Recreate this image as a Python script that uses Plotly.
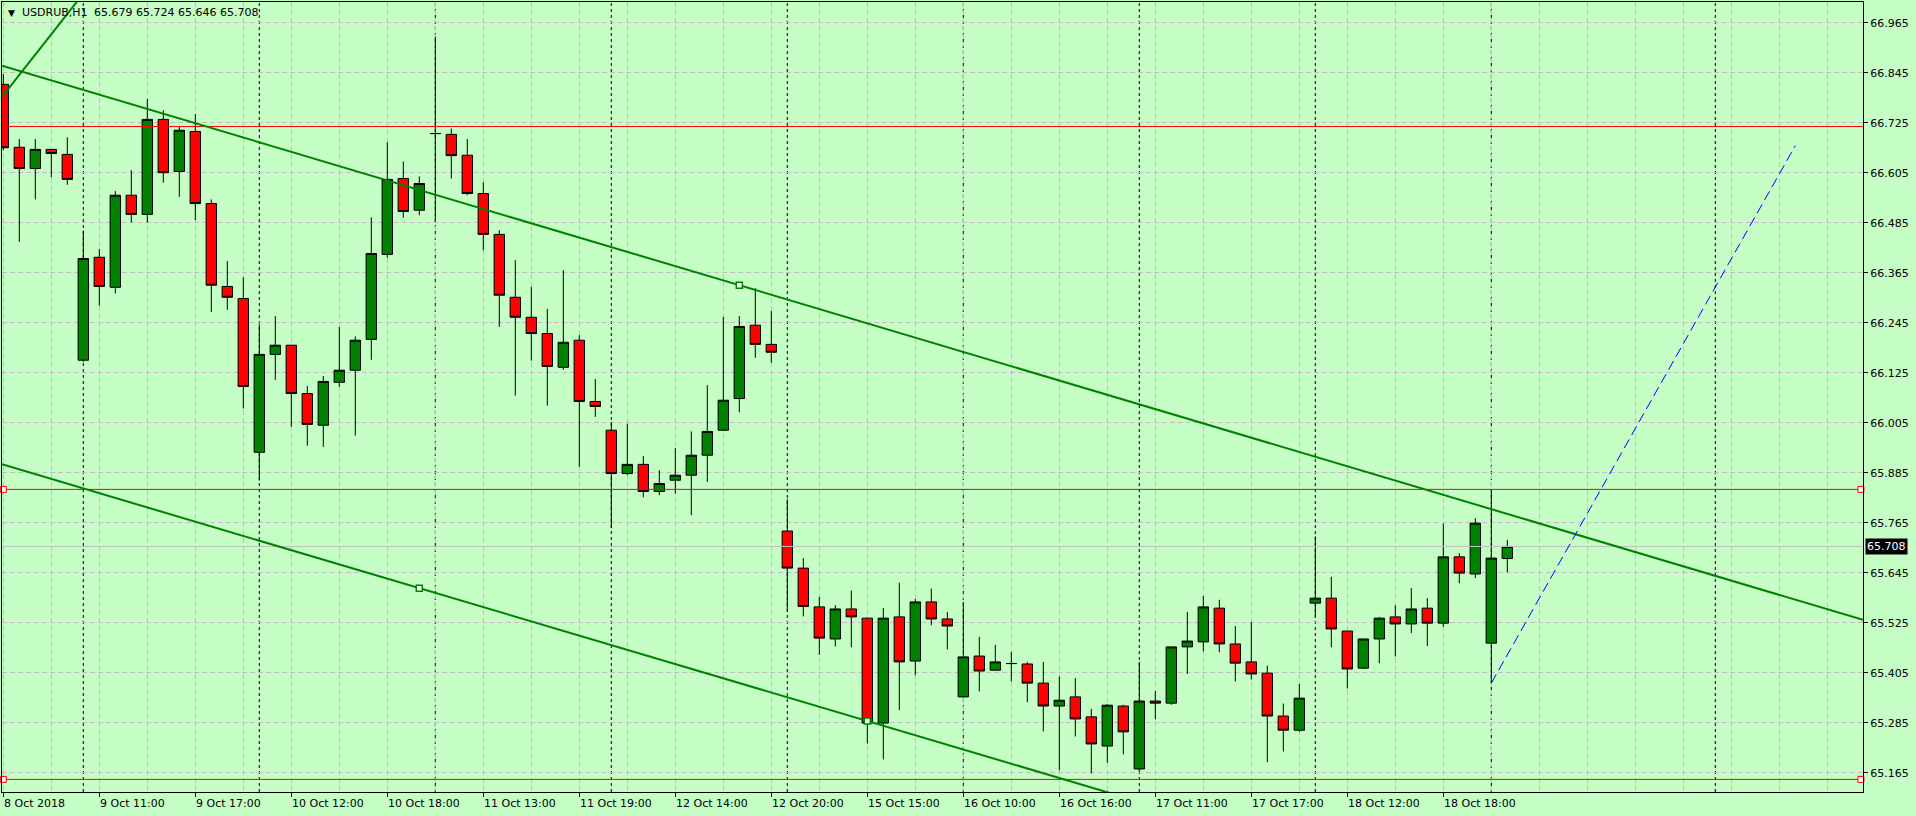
import plotly.graph_objects as go

# ---------------- data ----------------
symbol = "USDRUB,H1"

opens = [66.817, 66.666, 66.615, 66.661, 66.649, 66.155, 66.402, 66.330, 66.551, 66.505,
         66.733, 66.608, 66.704, 66.531, 66.332, 66.303, 65.934, 66.169, 66.191, 66.075,
         65.999, 66.102, 66.131, 66.205, 66.409, 66.591, 66.515, 66.699, 66.697, 66.647,
         66.555, 66.457, 66.306, 66.258, 66.219, 66.138, 66.203, 66.056, 65.987, 65.883,
         65.905, 65.840, 65.867, 65.879, 65.927, 65.987, 66.063, 66.239, 66.193, 65.745,
         65.656, 65.563, 65.486, 65.558, 65.536, 65.284, 65.539, 65.433, 65.575, 65.534,
         65.347, 65.445, 65.411, 65.427, 65.426, 65.380, 65.325, 65.347, 65.299, 65.229,
         65.325, 65.174, 65.337, 65.332, 65.467, 65.479, 65.560, 65.474, 65.431, 65.404,
         65.301, 65.267, 65.572, 65.584, 65.505, 65.416, 65.486, 65.539, 65.522, 65.560,
         65.524, 65.683, 65.642, 65.476, 65.679]
highs = [66.842, 66.686, 66.686, 66.661, 66.690, 66.466, 66.422, 66.561, 66.611, 66.782,
         66.755, 66.716, 66.746, 66.541, 66.393, 66.354, 66.241, 66.261, 66.191, 66.093,
         66.117, 66.235, 66.212, 66.498, 66.678, 66.632, 66.596, 66.931, 66.711, 66.686,
         66.582, 66.467, 66.395, 66.331, 66.278, 66.371, 66.215, 66.110, 66.007, 66.003,
         65.925, 65.891, 65.944, 65.984, 66.095, 66.259, 66.261, 66.328, 66.273, 65.822,
         65.680, 65.587, 65.567, 65.602, 65.538, 65.560, 65.621, 65.582, 65.607, 65.551,
         65.575, 65.491, 65.472, 65.455, 65.431, 65.431, 65.396, 65.392, 65.318, 65.330,
         65.328, 65.431, 65.361, 65.467, 65.551, 65.589, 65.580, 65.517, 65.527, 65.422,
         65.331, 65.378, 65.732, 65.635, 65.505, 65.486, 65.539, 65.567, 65.608, 65.584,
         65.763, 65.692, 65.776, 65.846, 65.724]
lows = [66.659, 66.439, 66.541, 66.594, 66.576, 66.151, 66.286, 66.315, 66.485, 66.485,
        66.581, 66.547, 66.491, 66.271, 66.276, 66.039, 65.866, 66.108, 65.995, 65.950,
        65.947, 66.091, 65.974, 66.156, 66.401, 66.497, 66.503, 66.487, 66.591, 66.551,
        66.419, 66.235, 66.070, 66.154, 66.046, 66.132, 65.899, 66.019, 65.752, 65.879,
        65.826, 65.831, 65.835, 65.783, 65.863, 65.985, 66.030, 66.161, 66.149, 65.551,
        65.540, 65.448, 65.468, 65.466, 65.235, 65.197, 65.315, 65.399, 65.519, 65.461,
        65.345, 65.360, 65.411, 65.384, 65.334, 65.264, 65.171, 65.252, 65.163, 65.189,
        65.209, 65.168, 65.293, 65.328, 65.402, 65.456, 65.454, 65.384, 65.389, 65.190,
        65.216, 65.263, 65.540, 65.466, 65.367, 65.414, 65.428, 65.444, 65.500, 65.469,
        65.515, 65.620, 65.632, 65.380, 65.646]
closes = [66.665, 66.615, 66.661, 66.651, 66.589, 66.399, 66.332, 66.551, 66.505, 66.733,
          66.605, 66.707, 66.531, 66.335, 66.306, 66.092, 66.169, 66.191, 66.075, 66.001,
          66.104, 66.131, 66.203, 66.411, 66.589, 66.512, 66.579, 66.699, 66.646, 66.555,
          66.457, 66.311, 66.258, 66.219, 66.140, 66.198, 66.056, 66.044, 65.883, 65.905,
          65.840, 65.859, 65.879, 65.927, 65.984, 66.059, 66.236, 66.193, 66.174, 65.656,
          65.564, 65.488, 65.558, 65.539, 65.284, 65.536, 65.431, 65.575, 65.534, 65.517,
          65.443, 65.409, 65.431, 65.427, 65.380, 65.325, 65.339, 65.294, 65.234, 65.327,
          65.263, 65.337, 65.332, 65.467, 65.481, 65.563, 65.474, 65.428, 65.402, 65.301,
          65.267, 65.344, 65.584, 65.510, 65.414, 65.486, 65.536, 65.522, 65.558, 65.524,
          65.683, 65.644, 65.764, 65.680, 65.708]

time_labels = ["8 Oct 2018", "9 Oct 11:00", "9 Oct 17:00", "10 Oct 12:00", "10 Oct 18:00",
               "11 Oct 13:00", "11 Oct 19:00", "12 Oct 14:00", "12 Oct 20:00", "15 Oct 15:00",
               "16 Oct 10:00", "16 Oct 16:00", "17 Oct 11:00", "17 Oct 17:00", "18 Oct 12:00",
               "18 Oct 18:00"]
label_bars = [0, 6, 12, 18, 24, 30, 36, 42, 48, 54, 60, 66, 72, 78, 84, 90]
day_start_bars = [5, 16, 27, 38, 49, 60, 71, 82, 93, 107]

price_ticks = [65.165, 65.285, 65.405, 65.525, 65.645, 65.765, 65.885, 66.005,
               66.125, 66.245, 66.365, 66.485, 66.605, 66.725, 66.845, 66.965]

red_levels = [66.716, 65.845, 65.149]
marked_levels = [65.845, 65.149]

upper_channel = [(0, 66.861), (46, 66.335)]
lower_channel = [(26, 65.608), (54, 65.289)]
steep_line = [(0, 66.791), (4, 66.986)]
projection = [(93, 65.380), (112, 66.670)]

# ---------------- layout constants ----------------
W, H = 1916, 816
ML, MR, MT, MB = 2, 53, 2, 24
X_RANGE = [-0.081, 116.23]
Y_RANGE = [65.1187, 67.0147]
BG = "#C5FFC5"
GRID = "#C4BCC4"
GREEN = "#008000"
RED = "#FF0000"
FONT = "DejaVu Sans"

bars = list(range(len(closes)))


def extend(pts, x0, x1):
    (a, pa), (b, pb) = pts
    k = (pb - pa) / (b - a)
    return [x0, x1], [pa + k * (x0 - a), pa + k * (x1 - a)]


fig = go.Figure()

# bid line (behind candles)
fig.add_trace(go.Scatter(x=X_RANGE, y=[closes[-1]] * 2, mode="lines",
                         line=dict(color="#C0C0C0", width=1), hoverinfo="skip",
                         showlegend=False))

fig.add_trace(go.Candlestick(
    x=bars, open=opens, high=highs, low=lows, close=closes,
    increasing=dict(line=dict(color="black", width=1), fillcolor=GREEN),
    decreasing=dict(line=dict(color="black", width=1), fillcolor=RED),
    whiskerwidth=0, hoverinfo="skip", showlegend=False,
))

# red horizontal levels
for lv in red_levels:
    fig.add_trace(go.Scatter(x=X_RANGE, y=[lv, lv], mode="lines",
                             line=dict(color=RED, width=1), hoverinfo="skip",
                             showlegend=False))
for lv in marked_levels:
    fig.add_trace(go.Scatter(x=[0, 116.1], y=[lv, lv], mode="markers",
                             marker=dict(symbol="square", size=6, color="white",
                                         line=dict(color=RED, width=1)),
                             cliponaxis=False, hoverinfo="skip", showlegend=False))

# trend lines
for pts in (upper_channel, lower_channel):
    xs, ys = extend(pts, X_RANGE[0], X_RANGE[1])
    fig.add_trace(go.Scatter(x=xs, y=ys, mode="lines", line=dict(color=GREEN, width=2),
                             hoverinfo="skip", showlegend=False))
xs, ys = extend(steep_line, X_RANGE[0], 10)
fig.add_trace(go.Scatter(x=xs, y=ys, mode="lines", line=dict(color=GREEN, width=2),
                         hoverinfo="skip", showlegend=False))

# anchor squares
fig.add_trace(go.Scatter(x=[upper_channel[1][0], lower_channel[0][0], lower_channel[1][0]],
                         y=[upper_channel[1][1], lower_channel[0][1], lower_channel[1][1]],
                         mode="markers",
                         marker=dict(symbol="square", size=6, color="white",
                                     line=dict(width=1.5, color=GREEN)),
                         hoverinfo="skip", showlegend=False))

# projection (blue dashed)
fig.add_trace(go.Scatter(x=[p[0] for p in projection], y=[p[1] for p in projection],
                         mode="lines", line=dict(color="#0000FF", width=1, dash="10px,5px"),
                         hoverinfo="skip", showlegend=False))

# day separators
shapes = []
for b in day_start_bars:
    shapes.append(dict(type="line", xref="x", yref="paper", x0=b, x1=b, y0=0, y1=1,
                       line=dict(color="black", width=1, dash="3px,3px"), layer="between"))

annotations = []
for b, t in zip(label_bars, time_labels):
    annotations.append(dict(x=b, xref="x", y=0, yref="paper", yshift=-11, text=t,
                            xanchor="left", yanchor="middle", showarrow=False,
                            font=dict(family=FONT, size=11, color="black"), xshift=-1))

pw = W - ML - MR
ph = H - MT - MB
def px(xp):
    return (xp - ML) / pw
def py(yp):
    return (H - MB - yp) / ph

annotations.append(dict(x=px(6), y=py(13), xref="paper", yref="paper", text="▼",
                        xanchor="left", yanchor="middle", showarrow=False,
                        font=dict(family=FONT, size=9, color="black")))
annotations.append(dict(x=px(20), y=py(13), xref="paper", yref="paper", text=symbol,
                        xanchor="left", yanchor="middle", showarrow=False,
                        font=dict(family=FONT, size=11, color="black")))
annotations.append(dict(x=px(92), y=py(13), xref="paper", yref="paper",
                        text=f"{opens[-1]:.3f} {highs[-1]:.3f} {lows[-1]:.3f} {closes[-1]:.3f}",
                        xanchor="left", yanchor="middle", showarrow=False,
                        font=dict(family=FONT, size=11, color="black")))
annotations.append(dict(x=1, xref="paper", y=closes[-1], yref="y", xshift=2,
                        text=f"{closes[-1]:.3f}", xanchor="left", yanchor="middle",
                        showarrow=False, bgcolor="black", borderpad=1,
                        font=dict(family=FONT, size=11, color="white")))

fig.update_layout(
    width=W, height=H, autosize=False,
    margin=dict(l=ML, r=MR, t=MT, b=MB, pad=0),
    paper_bgcolor=BG, plot_bgcolor=BG,
    boxgap=0.35, boxgroupgap=0,
    shapes=shapes, annotations=annotations,
    showlegend=False,
    xaxis=dict(range=X_RANGE, rangeslider=dict(visible=False), zeroline=False,
               tickmode="array", tickvals=label_bars, ticktext=[""] * len(label_bars),
               showticklabels=False, ticks="outside", ticklen=4, tickcolor="black",
               showgrid=True, gridcolor=GRID, griddash="5px,3px", gridwidth=1,
               minor=dict(tick0=0, dtick=3, showgrid=True, gridcolor=GRID,
                          griddash="5px,3px", gridwidth=1, ticks=""),
               showline=True, linecolor="black", linewidth=1, mirror=True,
               fixedrange=True),
    yaxis=dict(range=Y_RANGE, side="right", zeroline=False,
               tickmode="array", tickvals=price_ticks,
               ticktext=[f"{v:.3f}" for v in price_ticks],
               ticks="outside", ticklen=4, tickcolor="black",
               tickfont=dict(family=FONT, size=11, color="black"),
               showgrid=True, gridcolor=GRID, griddash="5px,3px", gridwidth=1,
               showline=True, linecolor="black", linewidth=1, mirror=True,
               fixedrange=True),
)

fig.write_html("out.html",
               config={"displayModeBar": False, "staticPlot": True},
               post_script="document.body.style.margin='0';document.body.style.background='"
                           + BG + "';document.body.style.overflow='hidden';")
